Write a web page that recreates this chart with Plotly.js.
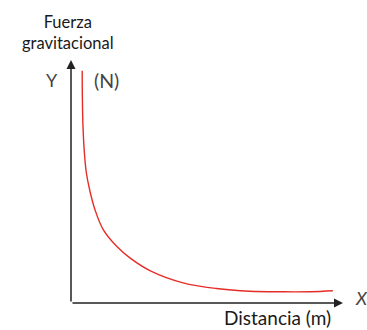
<!DOCTYPE html>
<html>
<head>
<meta charset="utf-8">
<script src="https://cdn.plot.ly/plotly-3.0.1.min.js"></script>
<style>html,body{margin:0;padding:0;background:#fff;}#chart{width:367px;height:330px;}</style>
</head>
<body>
<div id="chart"></div>
<script>
// Values (arbitrary units: distance vs. force)
const distancia = [11.2, 11.4, 12.0, 13.3, 15.3, 19, 24, 32.3, 45.7, 59, 79, 112.3, 145.7, 179, 212.3, 240, 262.3];
const fuerza    = [232.8, 205, 177, 152, 131, 112, 93.5, 73.5, 56.8, 45.2, 32.5, 20.2, 14.5, 11.8, 11.2, 11.3, 12.3];
const xMax = 272.5, yMax = 243.5;

const font = "Lato, 'Open Sans', sans-serif";
const trace = {
  x: distancia, y: fuerza, type: 'scatter', mode: 'lines',
  line: {color: '#e52d27', width: 1.4, shape: 'spline', smoothing: 1},
  hoverinfo: 'skip', cliponaxis: false
};
const L = 71, R = 367 - 343.5, T = 60, B = 330 - 303.5;
const pw = 367 - L - R, ph = 330 - T - B;
function px(x){return (x - L) / pw;}
function py(y){return (330 - B - y) / ph;}
const layout = {
  width: 367, height: 330,
  margin: {l: L, r: R, t: T, b: B},
  paper_bgcolor: '#fff', plot_bgcolor: '#fff',
  showlegend: false,
  xaxis: {range: [0, xMax], showgrid: false, zeroline: false, showline: false, showticklabels: false, ticks: '', fixedrange: true},
  yaxis: {range: [0, yMax], showgrid: false, zeroline: false, showline: false, showticklabels: false, ticks: '', fixedrange: true},
  annotations: [
    {x: xMax, y: 0, ax: 0, ay: 0, xref: 'x', yref: 'y', axref: 'x', ayref: 'y', text: '', showarrow: true, arrowhead: 2, arrowsize: 1.2, arrowwidth: 1.5, arrowcolor: '#222'},
    {x: 0, y: yMax, ax: 0, ay: 0, xref: 'x', yref: 'y', axref: 'x', ayref: 'y', text: '', showarrow: true, arrowhead: 2, arrowsize: 1.2, arrowwidth: 1.5, arrowcolor: '#222'},
    {x: px(68), y: py(32), xref: 'paper', yref: 'paper', text: 'Fuerza<br>gravitacional', showarrow: false, font: {family: font, size: 16.5, color: '#1a1a1a'}, xanchor: 'center', yanchor: 'middle'},
    {x: px(52), y: py(80), xref: 'paper', yref: 'paper', text: 'Y', showarrow: false, font: {family: font, size: 18, color: '#444'}, xanchor: 'center', yanchor: 'middle'},
    {x: px(106.5), y: py(80.5), xref: 'paper', yref: 'paper', text: '(N)', showarrow: false, font: {family: font, size: 19.5, color: '#444'}, xanchor: 'center', yanchor: 'middle'},
    {x: px(362), y: py(298), xref: 'paper', yref: 'paper', text: '<i>X</i>', showarrow: false, font: {family: font, size: 18, color: '#444'}, xanchor: 'center', yanchor: 'middle'},
    {x: px(278), y: py(318.5), xref: 'paper', yref: 'paper', text: 'Distancia (m)', showarrow: false, font: {family: font, size: 19, color: '#1a1a1a'}, xanchor: 'center', yanchor: 'middle'}
  ]
};
Plotly.newPlot('chart', [trace], layout, {displayModeBar: false, staticPlot: true});
</script>
</body>
</html>
